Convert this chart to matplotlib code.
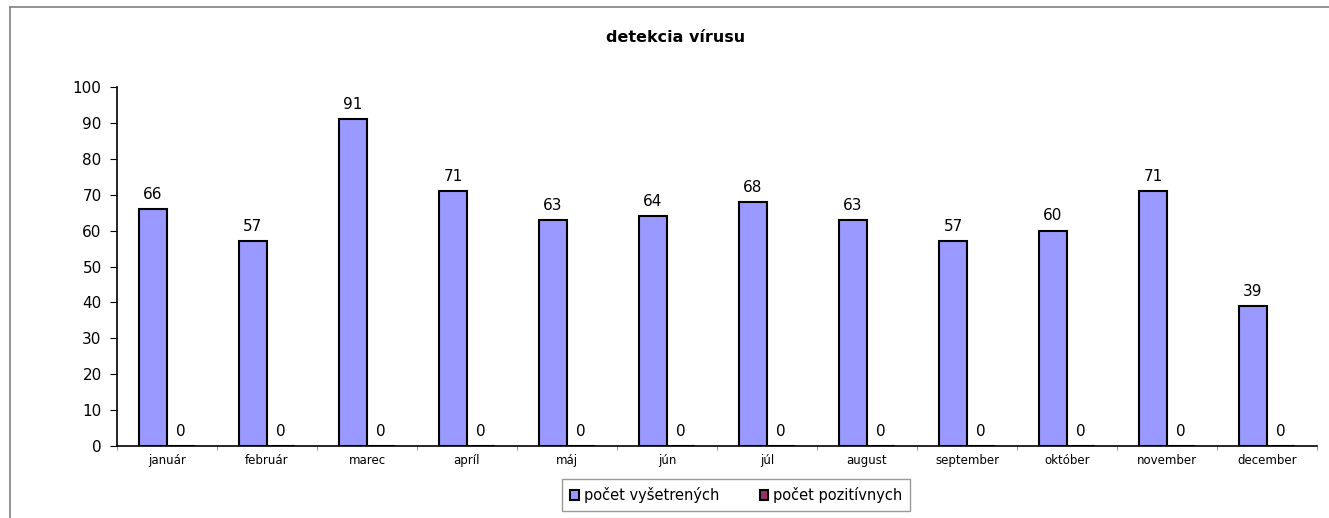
import numpy as np
import matplotlib.pyplot as plt
from matplotlib.lines import Line2D

months = ["január", "február", "marec", "apríl", "máj", "jún", "júl",
          "august", "september", "október", "november", "december"]
vysetrenych = [66, 57, 91, 71, 63, 64, 68, 63, 57, 60, 71, 39]
pozitivnych = [0, 0, 0, 0, 0, 0, 0, 0, 0, 0, 0, 0]
series_names = ["počet vyšetrených", "počet pozitívnych"]

plt.rcParams['font.family'] = ['DejaVu Sans']

fig = plt.figure(figsize=(13.29, 5.18), dpi=100)
ax = fig.add_axes([0.088, 0.139, 0.903, 0.693])

x = np.arange(len(months))
w = 0.28
b1 = ax.bar(x - w / 2, vysetrenych, w, color="#9999FF", edgecolor="black", linewidth=1.5,
            label=series_names[0])
b2 = ax.bar(x + w / 2, pozitivnych, w, color="#993366", edgecolor="black", linewidth=1.5,
            label=series_names[1])

# value labels above the bars
for rect, v in zip(b1, vysetrenych):
    ax.text(rect.get_x() + rect.get_width() / 2, v + 2, str(v), ha="center", va="bottom", fontsize=11)
for rect, v in zip(b2, pozitivnych):
    ax.text(rect.get_x() + rect.get_width() / 2, v + 2, str(v), ha="center", va="bottom", fontsize=11)

ax.set_xlim(-0.5, len(months) - 0.5)
ax.set_ylim(0, 100)
ax.set_yticks(range(0, 101, 10))
ax.tick_params(axis="y", labelsize=11, length=5, direction="out", pad=6)
ax.set_xticks(x)
ax.set_xticklabels(months, fontsize=8.5)
ax.tick_params(axis="x", length=0, pad=6)
ax.set_xticks(np.arange(-0.5, len(months), 1), minor=True)
ax.tick_params(axis="x", which="minor", length=3, color="gray")
for s in ["top", "right"]:
    ax.spines[s].set_visible(False)
ax.spines["left"].set_linewidth(1.2)
ax.spines["bottom"].set_linewidth(1.2)

fig.text(0.508, 0.927, "detekcia vírusu", ha="center", va="center", fontsize=11.5, fontweight="bold")

leg = fig.legend(loc="center", bbox_to_anchor=(0.554, 0.044), ncol=2, fontsize=10.5,
                 frameon=True, fancybox=False, edgecolor="gray", handlelength=0.6,
                 handleheight=0.6, handletextpad=0.3, columnspacing=2.8, borderpad=0.55,
                 borderaxespad=0)
leg.get_frame().set_linewidth(1.0)
leg._legend_box.sep = 0
for t in leg.get_texts():
    t.set_x(0)

# outer chart border (only left and top visible)
fig.add_artist(Line2D([10 / 1329, 10 / 1329], [0, 1 - 7 / 518], transform=fig.transFigure,
                      color="gray", linewidth=1.2))
fig.add_artist(Line2D([10 / 1329, 1], [1 - 7 / 518, 1 - 7 / 518], transform=fig.transFigure,
                      color="gray", linewidth=1.2))

fig.savefig("out.png", dpi=100)
